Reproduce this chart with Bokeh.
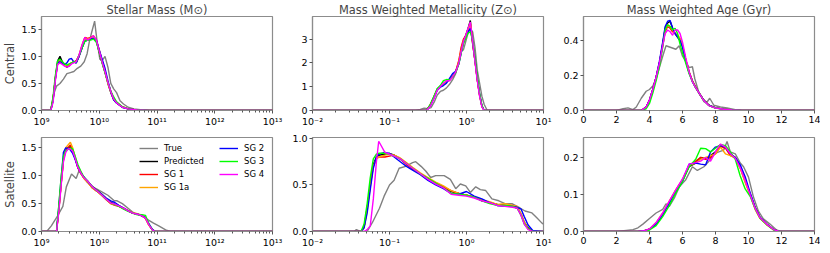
from bokeh.plotting import figure
from bokeh.layouts import column, row
from bokeh.models import (FixedTicker, Range1d, Legend, LegendItem,
                          PrintfTickFormatter, CustomJSTickFormatter)
from bokeh.embed import file_html
from bokeh.resources import INLINE

FONT = "DejaVu Sans"

# ---------------- data ----------------
series_names = ["Predicted", "SG 1", "SG 1a", "SG 2", "SG 3", "SG 4"]
series_colors = ["black", "red", "orange", "blue", "lime", "magenta"]
true_name = "True"
true_color = "gray"

panel_titles = ["Stellar Mass (M\u2299)", "Mass Weighted Metallicity (Z\u2299)", "Mass Weighted Age (Gyr)"]
row_labels = ["Central", "Satellite"]

# Central, stellar mass (log10 M)
cen_mass_true_logx = [9.0, 9.16, 9.21, 9.26, 9.32, 9.38, 9.44, 9.5, 9.56, 9.62, 9.68, 9.74, 9.79, 9.83, 9.87,
                      9.92, 9.96, 10.01, 10.05, 10.1, 10.15, 10.2, 10.25, 10.3, 10.36, 10.42, 10.5, 10.6, 10.75, 10.88, 13.0]
cen_mass_true = [0, 0, 0.3, 0.45, 0.5, 0.58, 0.68, 0.7, 0.72, 0.78, 0.82, 0.9, 1.05, 1.28, 1.45,
                 1.65, 1.3, 0.95, 0.92, 1.0, 0.8, 0.5, 0.4, 0.33, 0.18, 0.12, 0.06, 0.03, 0.01, 0.0, 0]
cen_mass_logx = [9.0, 9.16, 9.2, 9.24, 9.28, 9.32, 9.36, 9.4, 9.44, 9.48, 9.52, 9.56, 9.6, 9.65, 9.7, 9.75,
                 9.8, 9.85, 9.9, 9.95, 10.0, 10.05, 10.1, 10.15, 10.2, 10.25, 10.3, 10.4, 10.5, 10.65, 10.85, 13.0]
cen_mass_pred = [0, 0, 0.2, 0.6, 0.92, 1.0, 0.9, 0.85, 0.8, 0.83, 0.88, 0.9, 0.88, 1.0, 1.15, 1.3,
                 1.3, 1.33, 1.35, 1.28, 1.08, 0.88, 0.7, 0.5, 0.33, 0.2, 0.14, 0.06, 0.03, 0.01, 0.0, 0]
cen_mass_sg1 = [0, 0, 0.2, 0.6, 0.88, 0.92, 0.88, 0.83, 0.82, 0.85, 0.88, 0.9, 0.92, 1.02, 1.2, 1.35,
                1.33, 1.35, 1.38, 1.3, 1.12, 0.92, 0.72, 0.52, 0.35, 0.22, 0.15, 0.07, 0.03, 0.01, 0.0, 0]
cen_mass_sg1a = [0, 0, 0.2, 0.58, 0.87, 0.9, 0.87, 0.84, 0.83, 0.85, 0.88, 0.9, 0.9, 1.0, 1.18, 1.32,
                 1.32, 1.34, 1.36, 1.3, 1.1, 0.9, 0.72, 0.5, 0.34, 0.21, 0.14, 0.07, 0.03, 0.01, 0.0, 0]
cen_mass_sg2 = [0, 0, 0.18, 0.58, 0.88, 0.9, 0.88, 0.85, 0.88, 0.95, 0.96, 0.9, 0.88, 1.0, 1.15, 1.28,
                1.3, 1.32, 1.33, 1.3, 1.12, 0.95, 0.78, 0.55, 0.35, 0.2, 0.14, 0.06, 0.03, 0.01, 0.0, 0]
cen_mass_sg3 = [0, 0, 0.25, 0.65, 0.92, 0.95, 0.9, 0.86, 0.84, 0.86, 0.88, 0.9, 0.9, 1.02, 1.15, 1.28,
                1.3, 1.3, 1.32, 1.26, 1.08, 0.88, 0.7, 0.52, 0.36, 0.25, 0.16, 0.07, 0.03, 0.01, 0.0, 0]
cen_mass_sg4 = [0, 0, 0.15, 0.55, 0.85, 0.88, 0.85, 0.82, 0.8, 0.82, 0.86, 0.88, 0.9, 1.02, 1.2, 1.35,
                1.3, 1.34, 1.38, 1.3, 1.1, 0.9, 0.72, 0.52, 0.35, 0.21, 0.14, 0.06, 0.03, 0.01, 0.0, 0]

# Central, metallicity (log10 Z)
cen_met_true_logx = [-2.0, -0.66, -0.6, -0.55, -0.5, -0.46, -0.42, -0.38, -0.34, -0.3, -0.26, -0.22, -0.18, -0.14,
                     -0.1, -0.07, -0.04, -0.01, 0.02, 0.05, 0.08, 0.11, 0.14, 0.17, 0.2, 0.23, 0.27, 1.0]
cen_met_true = [0, 0, 0.05, 0.1, 0.08, 0.12, 0.35, 0.65, 0.8, 0.85, 0.95, 1.1, 1.3, 1.55,
                2.05, 2.5, 2.55, 2.9, 3.25, 3.45, 3.3, 2.65, 1.7, 1.15, 0.6, 0.25, 0.0, 0]
cen_met_logx = [-2.0, -0.6, -0.52, -0.47, -0.42, -0.38, -0.34, -0.3, -0.26, -0.22, -0.18, -0.14, -0.1,
                -0.07, -0.04, -0.01, 0.02, 0.05, 0.08, 0.11, 0.14, 0.17, 0.2, 0.23, 1.0]
cen_met_pred = [0, 0, 0, 0.25, 0.6, 0.9, 1.0, 1.08, 1.2, 1.3, 1.45, 1.62, 2.0,
                2.45, 2.9, 3.15, 3.45, 3.78, 2.8, 2.1, 1.3, 0.65, 0.17, 0.0, 0]
cen_met_sg1 = [0, 0, 0, 0.22, 0.58, 0.88, 1.0, 1.1, 1.22, 1.28, 1.42, 1.65, 2.1,
               2.65, 3.0, 3.15, 3.4, 3.65, 2.85, 2.1, 1.3, 0.65, 0.18, 0.0, 0]
cen_met_sg1a = [0, 0, 0, 0.22, 0.58, 0.88, 1.0, 1.1, 1.2, 1.28, 1.45, 1.62, 2.05,
                2.5, 2.9, 3.1, 3.4, 3.7, 2.85, 2.1, 1.3, 0.65, 0.18, 0.0, 0]
cen_met_sg2 = [0, 0, 0, 0.2, 0.55, 0.85, 0.98, 1.05, 1.15, 1.35, 1.55, 1.65, 1.95,
               2.4, 2.85, 3.1, 3.3, 3.45, 2.9, 2.15, 1.35, 0.7, 0.2, 0.0, 0]
cen_met_sg3 = [0, 0, 0, 0.25, 0.62, 0.92, 1.05, 1.25, 1.3, 1.28, 1.42, 1.6, 1.95,
               2.4, 2.8, 3.05, 3.25, 3.3, 2.95, 2.2, 1.4, 0.7, 0.22, 0.0, 0]
cen_met_sg4 = [0, 0, 0, 0.18, 0.52, 0.85, 1.0, 1.15, 1.25, 1.25, 1.42, 1.62, 2.0,
               2.45, 2.9, 3.15, 3.45, 3.72, 2.9, 2.05, 1.25, 0.6, 0.15, 0.0, 0]

# Central, age (Gyr)
cen_age_true_x = [0, 2.0, 2.4, 2.7, 3.0, 3.2, 3.5, 3.8, 4.0, 4.2, 4.4, 4.6, 4.8, 5.0, 5.3, 5.6, 5.8, 6.0,
                  6.2, 6.4, 6.6, 6.75, 7.0, 7.3, 7.5, 7.65, 7.9, 8.3, 8.7, 9.2, 9.6, 14]
cen_age_true = [0, 0, 0.01, 0.015, 0.005, 0.02, 0.07, 0.11, 0.12, 0.14, 0.18, 0.245, 0.31, 0.37, 0.36, 0.35, 0.37, 0.31,
                0.28, 0.245, 0.25, 0.18, 0.1, 0.05, 0.05, 0.07, 0.03, 0.02, 0.015, 0.005, 0, 0]
cen_age_x = [0, 3.5, 3.8, 4.0, 4.2, 4.4, 4.6, 4.8, 4.95, 5.1, 5.25, 5.4, 5.55, 5.7, 5.85, 6.0, 6.2, 6.4,
             6.6, 6.8, 7.0, 7.3, 7.6, 8.0, 8.5, 9.0, 9.6, 14]
cen_age_pred = [0, 0, 0.02, 0.06, 0.12, 0.19, 0.27, 0.38, 0.47, 0.5, 0.51, 0.47, 0.44, 0.42, 0.4, 0.37, 0.285, 0.22,
                0.17, 0.13, 0.1, 0.058, 0.03, 0.015, 0.008, 0.003, 0, 0]
cen_age_sg1 = [0, 0, 0.02, 0.06, 0.12, 0.19, 0.27, 0.37, 0.45, 0.48, 0.47, 0.45, 0.44, 0.43, 0.41, 0.37, 0.29, 0.22,
               0.17, 0.135, 0.1, 0.058, 0.03, 0.015, 0.008, 0.003, 0, 0]
cen_age_sg1a = [0, 0, 0.02, 0.06, 0.12, 0.19, 0.27, 0.37, 0.46, 0.49, 0.48, 0.46, 0.44, 0.43, 0.41, 0.37, 0.29, 0.22,
                0.17, 0.13, 0.1, 0.058, 0.03, 0.015, 0.008, 0.003, 0, 0]
cen_age_sg2 = [0, 0, 0.02, 0.06, 0.12, 0.19, 0.28, 0.39, 0.48, 0.51, 0.515, 0.47, 0.44, 0.42, 0.4, 0.36, 0.28, 0.215,
               0.165, 0.13, 0.1, 0.058, 0.03, 0.015, 0.008, 0.003, 0, 0]
cen_age_sg3 = [0, 0, 0.01, 0.04, 0.1, 0.17, 0.25, 0.36, 0.46, 0.49, 0.48, 0.46, 0.47, 0.44, 0.38, 0.33, 0.27, 0.21,
               0.165, 0.13, 0.1, 0.055, 0.028, 0.014, 0.007, 0.003, 0, 0]
cen_age_sg4 = [0, 0, 0.02, 0.06, 0.12, 0.19, 0.27, 0.37, 0.44, 0.46, 0.45, 0.43, 0.46, 0.46, 0.44, 0.39, 0.3, 0.22,
               0.165, 0.13, 0.1, 0.055, 0.028, 0.014, 0.007, 0.003, 0, 0]

# Satellite, stellar mass (log10 M)
sat_mass_true_logx = [9.0, 9.09, 9.17, 9.23, 9.29, 9.37, 9.43, 9.52, 9.6, 9.66, 9.72, 9.8, 9.92, 10.03,
                      10.15, 10.26, 10.31, 10.4, 10.52, 10.6, 10.72, 10.86, 10.94, 11.03, 11.15, 11.23, 13.0]
sat_mass_true = [0, 0, 0.1, 0.2, 0.3, 0.45, 0.8, 1.03, 0.95, 1.12, 1.0, 0.88, 0.78, 0.72,
                 0.65, 0.55, 0.55, 0.5, 0.4, 0.33, 0.3, 0.2, 0.15, 0.1, 0.03, 0.0, 0]
sat_mass_logx = [9.0, 9.26, 9.3, 9.34, 9.38, 9.42, 9.46, 9.5, 9.54, 9.58, 9.63, 9.68, 9.73, 9.8, 9.88, 9.96,
                 10.04, 10.12, 10.2, 10.27, 10.34, 10.42, 10.5, 10.58, 10.66, 10.74, 10.8, 10.86, 10.92, 10.97, 13.0]
sat_mass_pred = [0, 0, 0.4, 0.86, 1.3, 1.48, 1.5, 1.52, 1.45, 1.32, 1.15, 1.05, 0.97, 0.9, 0.8, 0.74,
                 0.67, 0.59, 0.52, 0.49, 0.46, 0.42, 0.37, 0.33, 0.31, 0.28, 0.24, 0.12, 0.03, 0.0, 0]
sat_mass_sg1 = [0, 0, 0.38, 0.85, 1.28, 1.45, 1.5, 1.55, 1.46, 1.32, 1.14, 1.04, 0.96, 0.88, 0.78, 0.72,
                0.65, 0.57, 0.5, 0.47, 0.45, 0.41, 0.37, 0.33, 0.31, 0.28, 0.24, 0.12, 0.03, 0.0, 0]
sat_mass_sg1a = [0, 0, 0.38, 0.85, 1.3, 1.5, 1.55, 1.6, 1.5, 1.35, 1.15, 1.04, 0.96, 0.88, 0.78, 0.72,
                 0.65, 0.58, 0.5, 0.48, 0.46, 0.42, 0.38, 0.34, 0.32, 0.28, 0.24, 0.11, 0.03, 0.0, 0]
sat_mass_sg2 = [0, 0, 0.45, 0.95, 1.42, 1.5, 1.49, 1.46, 1.4, 1.3, 1.15, 1.05, 0.98, 0.9, 0.8, 0.73,
                0.67, 0.6, 0.55, 0.52, 0.47, 0.42, 0.37, 0.33, 0.31, 0.28, 0.25, 0.14, 0.04, 0.0, 0]
sat_mass_sg3 = [0, 0, 0.48, 0.98, 1.35, 1.45, 1.47, 1.5, 1.48, 1.36, 1.2, 1.08, 0.98, 0.9, 0.8, 0.73,
                0.66, 0.58, 0.51, 0.48, 0.45, 0.4, 0.36, 0.33, 0.3, 0.3, 0.29, 0.13, 0.03, 0.0, 0]
sat_mass_sg4 = [0, 0, 0.35, 0.82, 1.25, 1.42, 1.48, 1.48, 1.44, 1.32, 1.15, 1.05, 0.97, 0.9, 0.8, 0.73,
                0.66, 0.58, 0.51, 0.49, 0.46, 0.42, 0.37, 0.33, 0.31, 0.28, 0.24, 0.12, 0.03, 0.0, 0]

# Satellite, metallicity (log10 Z)
sat_met_true_logx = [-2.0, -1.46, -1.43, -1.38, -1.29, -1.22, -1.13, -1.07, -1.0, -0.94, -0.875, -0.79, -0.7,
                     -0.66, -0.59, -0.53, -0.465, -0.4, -0.29, -0.21, -0.14, -0.08, -0.01, 0.05, 0.12, 0.18,
                     0.25, 0.33, 0.42, 0.5, 0.59, 0.7, 0.76, 0.85, 0.91, 0.98, 1.0]
sat_met_true = [0, 0, 0.02, 0.0, 0.0, 0.1, 0.25, 0.38, 0.5, 0.55, 0.68, 0.7, 0.74,
                0.75, 0.7, 0.65, 0.58, 0.6, 0.6, 0.56, 0.46, 0.51, 0.49, 0.42, 0.48, 0.45,
                0.44, 0.35, 0.33, 0.3, 0.3, 0.25, 0.22, 0.2, 0.15, 0.09, 0.08]
sat_met_logx = [-2.0, -1.37, -1.33, -1.29, -1.25, -1.21, -1.17, -1.14, -1.06, -1.0, -0.94, -0.86, -0.78, -0.7,
                -0.6, -0.5, -0.4, -0.3, -0.2, -0.1, 0.0, 0.1, 0.2, 0.3, 0.4, 0.5, 0.6, 0.66, 0.71, 0.75,
                0.8, 0.86, 1.0]
sat_met_pred = [0, 0, 0.05, 0.25, 0.5, 0.72, 0.8, 0.82, 0.83, 0.84, 0.82, 0.78, 0.73, 0.68,
                0.62, 0.57, 0.52, 0.48, 0.43, 0.41, 0.39, 0.37, 0.33, 0.31, 0.29, 0.28, 0.27, 0.25, 0.18, 0.1,
                0.04, 0.0, 0]
sat_met_sg1 = [0, 0, 0.05, 0.25, 0.5, 0.7, 0.78, 0.8, 0.8, 0.81, 0.82, 0.78, 0.72, 0.67,
               0.62, 0.57, 0.52, 0.48, 0.44, 0.41, 0.39, 0.37, 0.34, 0.31, 0.29, 0.28, 0.28, 0.26, 0.18, 0.09,
               0.03, 0.0, 0]
sat_met_sg1a = [0, 0, 0.04, 0.22, 0.48, 0.7, 0.78, 0.8, 0.82, 0.83, 0.82, 0.79, 0.74, 0.69,
                0.63, 0.58, 0.53, 0.49, 0.44, 0.41, 0.39, 0.37, 0.34, 0.32, 0.29, 0.3, 0.28, 0.27, 0.19, 0.1,
                0.03, 0.0, 0]
sat_met_sg2 = [0, 0, 0.04, 0.2, 0.45, 0.68, 0.8, 0.83, 0.85, 0.84, 0.8, 0.75, 0.7, 0.66,
               0.61, 0.55, 0.5, 0.46, 0.41, 0.4, 0.43, 0.38, 0.35, 0.31, 0.28, 0.27, 0.27, 0.26, 0.24, 0.16,
               0.07, 0.01, 0]
sat_met_sg3 = [0, 0, 0.08, 0.3, 0.58, 0.78, 0.83, 0.84, 0.84, 0.83, 0.81, 0.78, 0.73, 0.68,
               0.62, 0.57, 0.52, 0.47, 0.41, 0.4, 0.39, 0.37, 0.33, 0.3, 0.28, 0.28, 0.27, 0.25, 0.17, 0.08,
               0.03, 0.0, 0]
sat_met_sg4 = [0, 0, 0.0, 0.02, 0.06, 0.35, 0.75, 0.97, 0.85, 0.83, 0.81, 0.78, 0.73, 0.68,
               0.62, 0.56, 0.51, 0.47, 0.4, 0.39, 0.38, 0.36, 0.33, 0.31, 0.28, 0.27, 0.26, 0.25, 0.17, 0.08,
               0.02, 0.0, 0]

# Satellite, age (Gyr)
sat_age_true_x = [0, 2.0, 2.6, 3.0, 3.3, 3.6, 4.0, 4.4, 4.8, 5.0, 5.2, 5.5, 5.8, 6.0, 6.2, 6.6, 6.9, 7.3,
                  7.6, 7.9, 8.2, 8.5, 8.7, 8.9, 9.2, 9.5, 9.7, 10.0, 10.3, 10.6, 10.9, 11.3, 11.7, 11.95, 14]
sat_age_true = [0, 0, 0.003, 0.005, 0.01, 0.02, 0.035, 0.05, 0.06, 0.075, 0.068, 0.09, 0.12, 0.13, 0.14, 0.175,
                0.165, 0.175, 0.19, 0.21, 0.215, 0.22, 0.243, 0.215, 0.21, 0.185, 0.175, 0.147, 0.093, 0.055,
                0.034, 0.02, 0.004, 0, 0]
sat_age_x = [0, 3.3, 3.7, 4.0, 4.4, 4.8, 5.2, 5.6, 6.0, 6.4, 6.8, 7.1, 7.4, 7.7, 8.0, 8.3, 8.6, 8.9,
             9.2, 9.5, 9.8, 10.1, 10.4, 10.7, 11.1, 11.5, 11.85, 14]
sat_age_pred = [0, 0, 0.002, 0.006, 0.022, 0.047, 0.079, 0.11, 0.138, 0.175, 0.185, 0.2, 0.197, 0.205,
                0.215, 0.232, 0.228, 0.21, 0.2, 0.175, 0.138, 0.102, 0.065, 0.038, 0.02, 0.006, 0, 0]
sat_age_sg1 = [0, 0, 0.002, 0.006, 0.022, 0.047, 0.08, 0.112, 0.14, 0.178, 0.19, 0.2, 0.195, 0.2,
               0.21, 0.23, 0.225, 0.205, 0.2, 0.172, 0.135, 0.1, 0.063, 0.037, 0.02, 0.006, 0, 0]
sat_age_sg1a = [0, 0, 0.002, 0.007, 0.024, 0.05, 0.082, 0.113, 0.14, 0.178, 0.185, 0.195, 0.2, 0.205,
                0.21, 0.228, 0.21, 0.205, 0.198, 0.17, 0.132, 0.098, 0.06, 0.035, 0.018, 0.005, 0, 0]
sat_age_sg2 = [0, 0, 0.002, 0.006, 0.02, 0.045, 0.077, 0.108, 0.135, 0.182, 0.185, 0.182, 0.18, 0.215,
               0.228, 0.232, 0.228, 0.21, 0.2, 0.18, 0.148, 0.105, 0.065, 0.038, 0.02, 0.006, 0, 0]
sat_age_sg3 = [0, 0, 0.001, 0.004, 0.016, 0.04, 0.07, 0.105, 0.135, 0.175, 0.195, 0.225, 0.224, 0.215,
               0.225, 0.235, 0.232, 0.215, 0.195, 0.15, 0.115, 0.095, 0.062, 0.036, 0.019, 0.005, 0, 0]
sat_age_sg4 = [0, 0, 0.002, 0.007, 0.024, 0.05, 0.082, 0.113, 0.142, 0.182, 0.186, 0.19, 0.2, 0.19,
               0.215, 0.236, 0.228, 0.21, 0.198, 0.172, 0.138, 0.1, 0.063, 0.037, 0.02, 0.006, 0, 0]

# axis ticks per panel
cen_mass_yticks = [0.0, 0.5, 1.0, 1.5]
cen_met_yticks = [0, 1, 2, 3]
cen_age_yticks = [0.0, 0.2, 0.4]
sat_mass_yticks = [0.0, 0.5, 1.0, 1.5]
sat_met_yticks = [0.0, 0.5, 1.0]
sat_age_yticks = [0.0, 0.1, 0.2]
mass_xticks_exp = [9, 10, 11, 12, 13]
met_xticks_exp = [-2, -1, 0, 1]
age_xticks = [0, 2, 4, 6, 8, 10, 12, 14]


# ---------------- helpers ----------------
def pow10(v):
    return [10.0 ** a for a in v]


def sup_formatter():
    return CustomJSTickFormatter(code="""
const s = {"-":"\u207b","0":"\u2070","1":"\u00b9","2":"\u00b2","3":"\u00b3","4":"\u2074","5":"\u2075","6":"\u2076","7":"\u2077","8":"\u2078","9":"\u2079"};
const e = Math.round(Math.log10(tick));
return "10" + String(e).split("").map(c => s[c]).join("");
""")


FW = 231           # frame width
FH_TOP, FH_BOT = 94, 94
TOP_TB = (12, 20)  # top / bottom border, top row
BOT_TB = (7, 16)   # top / bottom border, bottom row
LR = [(33, 14), (26, 14), (26, 6)]


def make_fig(col, top_row, kind, y_end, yticks, yfmt, title=None, ylabel=None):
    bl, br = LR[col]
    bt, bb = TOP_TB if top_row else BOT_TB
    fh = FH_TOP if top_row else FH_BOT
    kw = dict(frame_width=FW, frame_height=fh, output_backend="svg", toolbar_location=None,
              min_border_left=bl, min_border_right=br, min_border_top=bt, min_border_bottom=bb,
              y_range=Range1d(0, y_end))
    if kind == "mass":
        p = figure(x_axis_type="log", x_range=Range1d(1e9, 1e13), **kw)
        exps = mass_xticks_exp
    elif kind == "met":
        p = figure(x_axis_type="log", x_range=Range1d(1e-2, 1e1), **kw)
        exps = met_xticks_exp
    else:
        p = figure(x_range=Range1d(0, 14), **kw)
        exps = None
    if exps is not None:
        majors = [10.0 ** e for e in exps]
        minors = [m * 10.0 ** e for e in exps[:-1] for m in range(2, 10)]
        p.xaxis.ticker = FixedTicker(ticks=majors, minor_ticks=minors)
        p.xaxis.formatter = sup_formatter()
        p.xaxis.minor_tick_line_color = "#555555"
    else:
        p.xaxis.ticker = FixedTicker(ticks=age_xticks)
        p.xaxis.formatter = PrintfTickFormatter(format="%d")
        p.xaxis.minor_tick_line_color = None
    p.yaxis.ticker = FixedTicker(ticks=yticks)
    p.yaxis.formatter = PrintfTickFormatter(format=yfmt)
    p.yaxis.minor_tick_line_color = None
    p.xgrid.visible = False
    p.ygrid.visible = False
    p.outline_line_color = "#8c8c8c"
    p.outline_line_width = 1.2
    p.background_fill_color = "white"
    p.border_fill_color = "white"
    for ax in (p.xaxis[0], p.yaxis[0]):
        ax.axis_line_color = "#8c8c8c"
        ax.axis_line_width = 1.2
        ax.major_tick_line_color = "#555555"
        ax.major_tick_out = 3
        ax.major_tick_in = 0
        ax.minor_tick_out = 2
        ax.minor_tick_in = 0
        ax.major_label_text_font = FONT
        ax.major_label_text_font_size = "9.5px"
        ax.major_label_text_color = "black"
        ax.major_label_standoff = 2
    if title:
        p.title.text = title
        p.title.align = "center"
        p.title.text_font = FONT
        p.title.text_font_size = "11.4px"
        p.title.text_font_style = "normal"
        p.title.text_line_height = 0.9
        p.title.standoff = 0
        p.title.offset = 0
    if ylabel:
        p.yaxis.axis_label = ylabel
        p.yaxis.axis_label_text_font = FONT
        p.yaxis.axis_label_text_font_size = "11.4px"
        p.yaxis.axis_label_text_font_style = "normal"
        p.yaxis.axis_label_standoff = 1
    return p


def draw(p, tx, ty, xs, ys_list):
    rs = [p.line(tx, ty, line_color=true_color, line_width=1.4)]
    for ys, c in zip(ys_list, series_colors):
        rs.append(p.line(xs, ys, line_color=c, line_width=1.4))
    return rs


# ---------------- figures ----------------
f1 = make_fig(0, True, "mass", 1.737, cen_mass_yticks, "%.1f", panel_titles[0], row_labels[0])
f2 = make_fig(1, True, "met", 3.95, cen_met_yticks, "%d", panel_titles[1])
f3 = make_fig(2, True, "age", 0.537, cen_age_yticks, "%.1f", panel_titles[2])
f4 = make_fig(0, False, "mass", 1.685, sat_mass_yticks, "%.1f", None, row_labels[1])
f5 = make_fig(1, False, "met", 1.01, sat_met_yticks, "%.1f")
f6 = make_fig(2, False, "age", 0.254, sat_age_yticks, "%.1f")

draw(f1, pow10(cen_mass_true_logx), cen_mass_true, pow10(cen_mass_logx),
     [cen_mass_pred, cen_mass_sg1, cen_mass_sg1a, cen_mass_sg2, cen_mass_sg3, cen_mass_sg4])
draw(f2, pow10(cen_met_true_logx), cen_met_true, pow10(cen_met_logx),
     [cen_met_pred, cen_met_sg1, cen_met_sg1a, cen_met_sg2, cen_met_sg3, cen_met_sg4])
draw(f3, cen_age_true_x, cen_age_true, cen_age_x,
     [cen_age_pred, cen_age_sg1, cen_age_sg1a, cen_age_sg2, cen_age_sg3, cen_age_sg4])
rs = draw(f4, pow10(sat_mass_true_logx), sat_mass_true, pow10(sat_mass_logx),
          [sat_mass_pred, sat_mass_sg1, sat_mass_sg1a, sat_mass_sg2, sat_mass_sg3, sat_mass_sg4])
draw(f5, pow10(sat_met_true_logx), sat_met_true, pow10(sat_met_logx),
     [sat_met_pred, sat_met_sg1, sat_met_sg1a, sat_met_sg2, sat_met_sg3, sat_met_sg4])
draw(f6, sat_age_true_x, sat_age_true, sat_age_x,
     [sat_age_pred, sat_age_sg1, sat_age_sg1a, sat_age_sg2, sat_age_sg3, sat_age_sg4])

names = [true_name] + series_names
items = [LegendItem(label=n, renderers=[r]) for n, r in zip(names, rs)]


def make_legend(its, x0):
    h = len(its) * 12 + (len(its) - 1) * 1
    return Legend(items=its, location=(x0, FH_BOT - 5 - h), orientation="vertical",
                  label_text_font=FONT, label_text_font_size="8.5px", label_text_color="black",
                  glyph_width=19, glyph_height=12, label_height=12, label_standoff=6,
                  spacing=1, padding=0, margin=0,
                  border_line_alpha=0, background_fill_alpha=0)


f4.add_layout(make_legend(items[:4], 98))
f4.add_layout(make_legend(items[4:], 178))

layout = column(row(f1, f2, f3), row(f4, f5, f6))

open("out.html", "w").write(file_html(layout, INLINE))
